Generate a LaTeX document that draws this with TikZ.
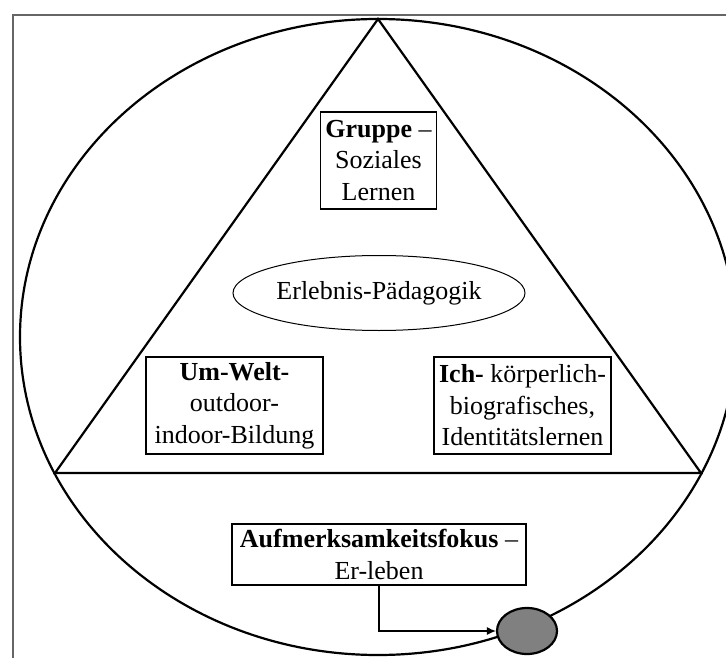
\documentclass[tikz,border=0pt]{standalone}
\usepackage{fontspec}
\setmainfont{Liberation Serif}
\usetikzlibrary{arrows.meta, shapes, positioning}

\begin{document}
\begin{tikzpicture}[x=0.5pt,y=-0.5pt,font=\fontsize{13}{15.7}\selectfont,line width=1.1pt,>={Latex[length=4.5pt,width=4pt]}]

		\tikzset{box st/.style={draw, line width=0.6pt, align=center,
								inner sep=0pt, minimum height=48.5pt},
				 oval st/.style={ellipse, draw, line width=0.5pt,
								 inner sep=0pt}}

		\useasboundingbox (0,0) rectangle (726,657);
		\clip (0,0) rectangle (726,657);

		\draw[gray!80!black, line width=1pt] (13,700) -- (13,15) -- (760,15);

		\draw (378,337) ellipse [x radius=358, y radius=318];

		\coordinate (top) at (378,19);
		\coordinate (left) at (55,473);
		\coordinate (right) at (701,473);
		\draw (top) -- (left) -- (right) -- cycle;

		\node[box st, minimum width=58pt] (gruppe) at (378.5,160.5)
			{\textbf{Gruppe} –\\Soziales\\Lernen};
		\node[oval st, minimum width=146pt, minimum height=37.5pt] (erlebnis) at (379,293)
			{Erlebnis-Pädagogik};
		\node[box st, minimum width=88.5pt] (umwelt) at (234.5,405.5)
			{\textbf{Um-Welt-}\\outdoor-\\indoor-Bildung};
		\node[box st, minimum width=88.5pt] (ich) at (522.5,405.5)
			{\textbf{Ich-} körperlich-\\biografisches,\\Identitätslernen};
		\node[box st, minimum width=147pt, minimum height=30.5pt] (fokus) at (379,554.5)
			{\textbf{Aufmerksamkeitsfokus} –\\Er-leben};
		\node[oval st, fill=gray, line width=1.1pt, minimum width=30pt,
			  minimum height=23pt] (punkt) at (527,631) {};

		\draw[->, line width=0.6pt] (fokus.south) |- (punkt.west);
\end{tikzpicture}
\end{document}
